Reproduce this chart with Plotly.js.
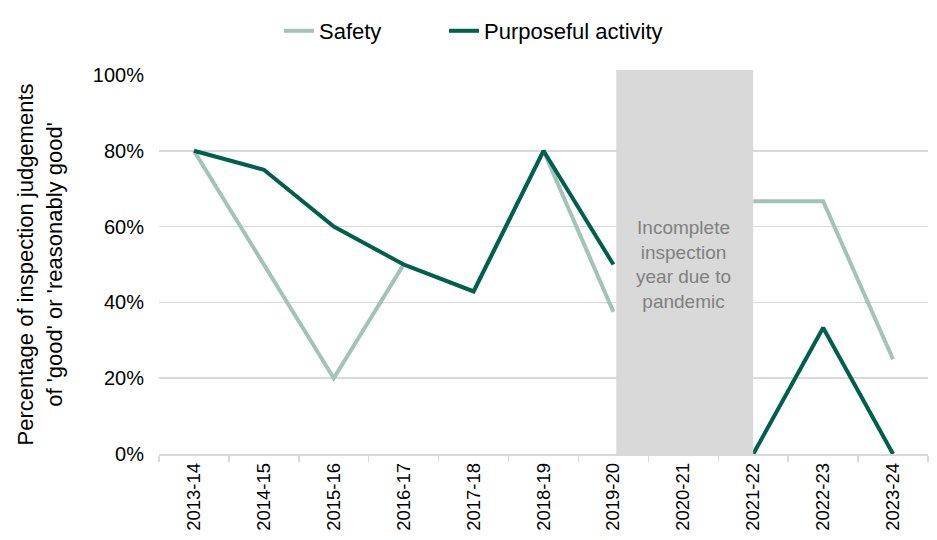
<!DOCTYPE html>
<html>
<head>
<meta charset="utf-8">
<script src="https://cdn.plot.ly/plotly-3.0.1.min.js"></script>
<style>
  html, body { margin: 0; padding: 0; background: #fff; }
  #chart { width: 937px; height: 540px; }
</style>
</head>
<body>
<div id="chart"></div>
<script>
// years of inspection
const years = ['2013-14', '2014-15', '2015-16', '2016-17', '2017-18', '2018-19',
               '2019-20', '2020-21', '2021-22', '2022-23', '2023-24'];

// percentage judged good / reasonably good (2020-21 missing: pandemic)
const safety = [80, 50, 20, 50, 42.9, 80, 37.5, null, 66.7, 66.7, 25];
const purposeful = [80, 75, 60, 50, 42.9, 80, 50, null, 0, 33.3, 0];

const yTicks = [0, 20, 40, 60, 80, 100];
const yTickText = yTicks.map(v => v + '%');

const lightGreen = 'rgb(161,196,184)';
const darkGreen = 'rgb(0,96,76)';
const gridGrey = '#d9d9d9';
const font = 'Liberation Sans, Arial, sans-serif';

var traces = [
    {
        x: years, y: safety, name: 'Safety', type: 'scatter', mode: 'lines',
        line: { color: lightGreen, width: 4 }, connectgaps: false, legend: 'legend'
    },
    {
        x: years, y: purposeful, name: 'Purposeful activity', type: 'scatter', mode: 'lines',
        line: { color: darkGreen, width: 4 }, connectgaps: false, legend: 'legend2'
    }
];

// one legend per series so the gap between them can match the original
function legendAt(px) {
    return {
        orientation: 'h', xref: 'container', yref: 'container',
        x: px / 937, xanchor: 'left', y: 1 - 31 / 540, yanchor: 'middle',
        font: { size: 22, color: '#000' }
    };
}

var layout = {
    width: 937, height: 540,
    margin: { l: 159, r: 9, t: 75, b: 86 },
    paper_bgcolor: '#fff', plot_bgcolor: '#fff',
    font: { family: font, color: '#000' },
    showlegend: true,
    legend: legendAt(279),
    legend2: legendAt(444),
    xaxis: {
        type: 'category', range: [-0.5, 10.5],
        tickangle: -90, tickfont: { size: 18.5, color: '#000' },
        showgrid: false, showline: true, linecolor: gridGrey, linewidth: 1.5,
        ticks: 'outside', tickson: 'boundaries', ticklen: 6, tickcolor: gridGrey, tickwidth: 1.5,
        fixedrange: true
    },
    yaxis: {
        range: [0, 100], tickvals: yTicks, ticktext: yTickText,
        tickfont: { size: 20, color: '#000' },
        showgrid: true, gridcolor: gridGrey, gridwidth: 1.5,
        zeroline: false, showline: false, ticks: '', ticklabelstandoff: 14,
        title: {
            text: "Percentage of inspection judgements<br>of 'good' or 'reasonably good'",
            font: { size: 22, color: '#000' }, standoff: 24
        },
        automargin: false, fixedrange: true
    },
    shapes: [{
        type: 'rect', layer: 'above', xref: 'x', yref: 'paper',
        x0: 6.04, x1: 8, y0: 0, y1: 1.013,
        fillcolor: gridGrey, line: { width: 0 }
    }],
    annotations: [{
        xref: 'x', yref: 'y', x: 7, y: 50,
        text: 'Incomplete<br>inspection<br>year due to<br>pandemic',
        showarrow: false, font: { size: 19, color: '#808080' }, align: 'center'
    }]
};

Plotly.newPlot('chart', traces, layout, { displayModeBar: false, staticPlot: true });
</script>
</body>
</html>
